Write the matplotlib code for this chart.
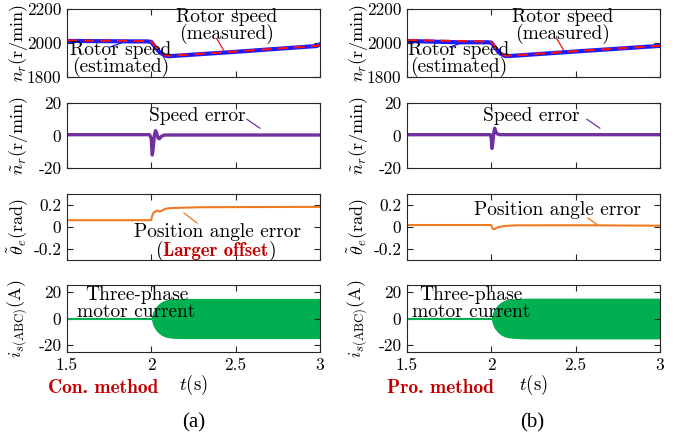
import matplotlib
matplotlib.use('Agg')
import matplotlib.pyplot as plt

plt.rcParams['font.family'] = ['cmr10', 'DejaVu Serif']
plt.rcParams['mathtext.fontset'] = 'cm'
plt.rcParams['axes.unicode_minus'] = False
plt.rcParams['axes.formatter.use_mathtext'] = True

# ---- data (breakpoints of each trace) ----
x_ticks = [1.5, 2.0, 2.5, 3.0]
x_tick_labels = ['1.5', '2', '2.5', '3']

# (a) conventional method
a_t_speed = [1.5, 1.8, 1.98, 2.0, 2.02, 2.05, 2.08, 2.1, 2.15, 2.5, 2.98, 3.0]
a_n_meas = [2015, 2013, 2011, 2008, 1985, 1950, 1930, 1925, 1927, 1950, 1983, 1990]
a_n_est = [2012, 2010, 2009, 2006, 1980, 1945, 1927, 1922, 1925, 1948, 1982, 1992]

a_t_err = [1.5, 1.99, 2.0, 2.003, 2.006, 2.012, 2.018, 2.025, 2.032, 2.04, 2.048, 2.06, 2.08, 3.0]
a_n_err = [0.5, 0.5, -2, -8, -12, -7, 0, 3, 1.5, -1.5, -2, -0.5, 0.3, 0.3]

a_t_ang = [1.5, 1.999, 2.005, 2.015, 2.025, 2.035, 2.05, 2.07, 2.09, 2.12, 2.2, 2.3, 3.0]
a_ang = [0.062, 0.062, 0.1, 0.135, 0.14, 0.15, 0.14, 0.155, 0.168, 0.172, 0.176, 0.18, 0.183]

a_t_cur = [1.5, 2.0, 2.005, 2.01, 2.02, 2.04, 2.06, 2.08, 2.1, 2.13, 2.2, 3.0]
a_cur_amp = [0.6, 0.6, 3, 5, 7.5, 10.5, 12.5, 13.7, 14.3, 14.8, 15, 15]

# (b) proposed method
b_t_speed = [1.5, 1.8, 1.98, 2.0, 2.02, 2.05, 2.08, 2.1, 2.15, 2.5, 3.0]
b_n_meas = [2017, 2012, 2008, 2006, 1980, 1945, 1927, 1925, 1928, 1952, 1984]
b_n_est = [2012, 2004, 2004, 2002, 1976, 1940, 1924, 1923, 1926, 1950, 1983]

b_t_err = [1.5, 1.995, 2.0, 2.004, 2.008, 2.014, 2.02, 2.026, 2.035, 2.05, 3.0]
b_n_err = [0.5, 0.5, -2, -8, -5, 1, 4.5, 2.5, 1, 0.5, 0.5]

b_t_ang = [1.5, 1.999, 2.005, 2.012, 2.02, 2.04, 2.08, 2.15, 2.5, 3.0]
b_ang = [0.018, 0.018, -0.005, -0.02, -0.018, -0.002, 0.01, 0.015, 0.016, 0.012]

b_t_cur = [1.5, 2.0, 2.005, 2.01, 2.02, 2.04, 2.06, 2.08, 2.1, 2.13, 2.2, 3.0]
b_cur_amp = [0.6, 0.6, 3, 5, 7.5, 10.5, 12.5, 13.7, 14.3, 14.8, 15.2, 15.2]

C_BLUE = '#1a1aff'
C_RED = '#ff1010'
C_PURPLE = '#7030a0'
C_ORANGE = '#f07a22'
C_GREEN = '#00b050'
C_DRED = '#c00000'
FS_ANN = 14
FS_TICK = 12.5
FS_YLAB = 13

fig = plt.figure(figsize=(6.78, 4.34), dpi=100)

rows = [(0.8226, 0.1567), (0.6129, 0.1498), (0.4009, 0.1521), (0.1889, 0.1544)]
cols = [0.0988, 0.6003]
width = 0.373


def style(ax, yticks, ylabels, ylim, ylabel, bottom):
    ax.set_xlim(1.5, 3.0)
    ax.set_ylim(*ylim)
    ax.set_xticks(x_ticks)
    ax.set_yticks(yticks)
    ax.set_yticklabels(ylabels)
    if bottom:
        ax.set_xticklabels(x_tick_labels)
        ax.set_xlabel(r'$t(\mathrm{s})$', fontsize=13.5, labelpad=0)
    else:
        ax.set_xticklabels([])
    ax.tick_params(direction='in', top=True, right=True, length=4,
                   labelsize=FS_TICK, width=0.8, colors='#262626',
                   labelcolor='black', pad=4)
    for s in ax.spines.values():
        s.set_color('#262626')
        s.set_linewidth(0.8)
    ax.set_ylabel(ylabel, fontsize=FS_YLAB)
    ax.yaxis.set_label_coords(-0.145, 0.5)


def connector(ax, x0, y0, x1, y1, color):
    ax.plot([x0, x1], [y0, y1], color=color, lw=0.9)


panels = [
    dict(t_sp=a_t_speed, meas=a_n_meas, est=a_n_est, t_err=a_t_err, err=a_n_err,
         t_ang=a_t_ang, ang=a_ang, t_cur=a_t_cur, amp=a_cur_amp),
    dict(t_sp=b_t_speed, meas=b_n_meas, est=b_n_est, t_err=b_t_err, err=b_n_err,
         t_ang=b_t_ang, ang=b_ang, t_cur=b_t_cur, amp=b_cur_amp),
]

for k, (x0, d) in enumerate(zip(cols, panels)):
    ax1 = fig.add_axes([x0, rows[0][0], width, rows[0][1]])
    ax2 = fig.add_axes([x0, rows[1][0], width, rows[1][1]])
    ax3 = fig.add_axes([x0, rows[2][0], width, rows[2][1]])
    ax4 = fig.add_axes([x0, rows[3][0], width, rows[3][1]])

    # speed
    ax1.plot(d['t_sp'], d['est'], color=C_BLUE, lw=3)
    ax1.plot(d['t_sp'], d['meas'], color=C_RED, lw=1.5, dashes=(5, 3))
    style(ax1, [1800, 2000, 2200], ['1800', '2000', '2200'], (1800, 2200),
          r'$n_r(\mathrm{r/min})$', False)
    mx = 2.449 if k == 0 else 2.425
    ex = 1.820 if k == 0 else 1.808
    ax1.text(mx, 2100, 'Rotor speed\n(measured)', ha='center', va='center',
             fontsize=FS_ANN, linespacing=0.92)
    ax1.text(ex, 1906, 'Rotor speed\n(estimated)', ha='center', va='center',
             fontsize=FS_ANN, linespacing=0.92)
    connector(ax1, 2.389, 2024, 2.428, 1959, C_RED)
    connector(ax1, 1.755, 1976, 1.83, 2003, C_BLUE)

    # speed error
    ax2.plot(d['t_err'], d['err'], color=C_PURPLE, lw=2.4)
    style(ax2, [-20, 0, 20], ['-20', '0', '20'], (-20, 20),
          r'$\tilde{n}_r(\mathrm{r/min})$', False)
    sx = 2.274 if k == 0 else 2.238
    ax2.text(sx, 12, 'Speed error', ha='center', va='center', fontsize=FS_ANN)
    connector(ax2, 2.567, 10, 2.644, 4.5, C_PURPLE)

    # position angle error
    ax3.plot(d['t_ang'], d['ang'], color=C_ORANGE, lw=1.5)
    style(ax3, [-0.2, 0, 0.2], ['-0.2', '0', '0.2'], (-0.3, 0.3),
          r'$\tilde{\theta}_e(\mathrm{rad})$', False)
    if k == 0:
        ax3.text(2.392, -0.045, 'Position angle error', ha='center',
                 va='center', fontsize=FS_ANN)
        t = ax3.text(2.383, -0.218, 'Larger offset', ha='center', va='center',
                     fontsize=FS_ANN - 0.5, color=C_DRED, family='cmb10')
        ax3.annotate('(', xy=(0, 0.5), xycoords=t, ha='right', va='center',
                     fontsize=FS_ANN)
        ax3.annotate(')', xy=(1, 0.5), xycoords=t, ha='left', va='center',
                     fontsize=FS_ANN)
        connector(ax3, 2.194, 0.127, 2.271, 0.036, C_ORANGE)
    else:
        ax3.text(2.392, 0.155, 'Position angle error', ha='center',
                 va='center', fontsize=FS_ANN)
        connector(ax3, 2.573, 0.082, 2.632, 0.018, C_ORANGE)

    # three-phase current (dense oscillation drawn as its envelope)
    lo = [-a for a in d['amp']]
    ax4.fill_between(d['t_cur'], lo, d['amp'], color=C_GREEN, lw=0)
    ax4.plot([1.5, 2.0], [0, 0], color=C_GREEN, lw=1.5)
    style(ax4, [-20, 0, 20], ['-20', '0', '20'], (-25, 25),
          r'$i_{s(\mathrm{ABC})}(\mathrm{A})$', True)
    cx = 1.912 if k == 0 else 1.88
    ax4.text(cx, 11.2, 'Three-phase\nmotor current', ha='center',
             va='center', fontsize=FS_ANN, linespacing=0.92)

fig.text(0.071, 0.106, 'Con. method', color=C_DRED, fontsize=14,
         family='cmb10', ha='left', va='center')
fig.text(0.571, 0.106, 'Pro. method', color=C_DRED, fontsize=14,
         family='cmb10', ha='left', va='center')
fig.text(0.285, 0.025, '(a)', fontsize=15, family='Liberation Serif',
         ha='center', va='center')
fig.text(0.785, 0.025, '(b)', fontsize=15, family='Liberation Serif',
         ha='center', va='center')

fig.savefig('out.png', dpi=100)
